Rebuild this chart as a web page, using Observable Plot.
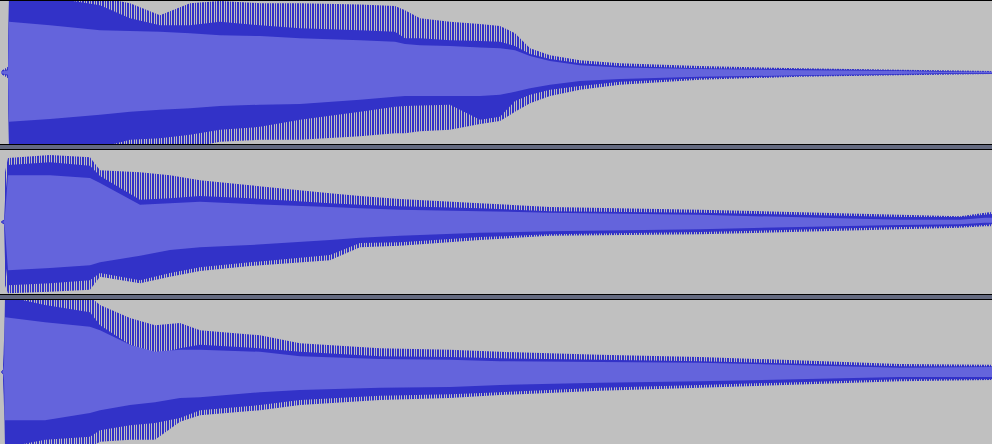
<!DOCTYPE html>
<html>
<head>
<meta charset="utf-8">
<script src="https://cdn.jsdelivr.net/npm/d3@7"></script>
<script src="https://cdn.jsdelivr.net/npm/@observablehq/plot@0.6"></script>
<style>
  html, body { margin: 0; padding: 0; background: #000; }
  #wrap { position: relative; width: 992px; height: 444px; background: #000; overflow: hidden; }
  .track { position: absolute; left: 0; width: 992px; background: #c0c0c0; }
  .track svg { display: block; }
  .sep { position: absolute; left: 0; width: 992px; height: 4px; background: #646a80; }
</style>
</head>
<body>
<div id="wrap">
  <div class="track" id="tr1" style="top:1px;height:143px"></div>
  <div class="sep" style="top:145px"></div>
  <div class="track" id="tr2" style="top:150px;height:144px"></div>
  <div class="sep" style="top:295px"></div>
  <div class="track" id="tr3" style="top:300px;height:144px"></div>
</div>
<script>
// ---- Track 1 (time units: 100 columns each, amplitude -1..1) ----
const timeA     = [0.01,0.08,0.09,0.50,1.00,1.30,1.60,1.90,2.20,2.60,3.00,3.60,3.95,4.05,4.20,4.50,4.80,5.00,5.15,5.30,5.50,5.80,6.20,7.00,8.00,9.00,9.40,9.92];
const peakHiA   = [0.02,0.08,1.05,1.05,1.05,0.97,0.80,0.97,1.00,0.97,0.97,0.95,0.93,0.87,0.76,0.71,0.68,0.65,0.55,0.34,0.24,0.17,0.13,0.09,0.06,0.04,0.03,0.02];
const solidHiA  = [0.01,0.05,1.05,1.05,0.94,0.76,0.66,0.66,0.71,0.66,0.62,0.59,0.57,0.48,0.48,0.45,0.44,0.43,0.37,0.26,0.19,0.13,0.09,0.06,0.05,0.03,0.02,0.01];
const rmsHiA    = [0.01,0.03,0.71,0.66,0.59,0.58,0.57,0.55,0.52,0.51,0.48,0.45,0.43,0.40,0.38,0.37,0.35,0.34,0.31,0.23,0.16,0.10,0.07,0.05,0.03,0.02,0.01,0.01];
const rmsLoA    = [-0.01,-0.03,-0.69,-0.65,-0.59,-0.55,-0.52,-0.50,-0.47,-0.45,-0.44,-0.38,-0.34,-0.33,-0.33,-0.33,-0.33,-0.31,-0.27,-0.22,-0.17,-0.12,-0.09,-0.06,-0.04,-0.02,-0.01,-0.01];
const solidLoA  = [-0.01,-0.05,-1.05,-1.05,-1.05,-0.94,-0.92,-0.87,-0.80,-0.76,-0.66,-0.55,-0.48,-0.47,-0.46,-0.45,-0.66,-0.62,-0.40,-0.31,-0.24,-0.19,-0.13,-0.08,-0.05,-0.03,-0.02,-0.02];
const peakLoA   = [-0.02,-0.08,-1.05,-1.05,-1.05,-1.05,-1.05,-1.05,-0.97,-0.94,-0.94,-0.89,-0.85,-0.85,-0.82,-0.80,-0.72,-0.68,-0.55,-0.43,-0.33,-0.24,-0.17,-0.10,-0.06,-0.04,-0.03,-0.02];

// ---- Track 2 ----
const timeB     = [0.01,0.04,0.05,0.08,0.50,0.90,1.00,1.40,1.70,2.00,2.50,3.30,3.60,4.00,4.80,5.50,7.00,9.00,9.60,9.85,9.92];
const peakHiB   = [0.01,0.03,0.69,0.89,0.93,0.90,0.72,0.69,0.65,0.58,0.51,0.40,0.36,0.32,0.26,0.21,0.17,0.10,0.08,0.13,0.14];
const solidHiB  = [0.01,0.01,0.31,0.79,0.83,0.78,0.64,0.31,0.33,0.36,0.33,0.26,0.24,0.22,0.19,0.15,0.13,0.07,0.07,0.10,0.11];
const rmsHiB    = [0.00,0.01,0.10,0.65,0.65,0.61,0.54,0.24,0.26,0.28,0.25,0.21,0.19,0.17,0.15,0.13,0.10,0.03,0.03,0.06,0.06];
const rmsLoB    = [0.00,-0.01,-0.11,-0.67,-0.64,-0.60,-0.56,-0.47,-0.39,-0.35,-0.32,-0.25,-0.22,-0.19,-0.15,-0.13,-0.10,-0.04,-0.03,-0.01,-0.01];
const solidLoB  = [-0.01,-0.01,-0.53,-0.88,-0.85,-0.81,-0.71,-0.81,-0.71,-0.63,-0.56,-0.46,-0.29,-0.28,-0.21,-0.17,-0.14,-0.07,-0.06,-0.04,-0.03];
const peakLoB   = [-0.01,-0.03,-0.88,-0.99,-0.97,-0.94,-0.76,-0.85,-0.76,-0.68,-0.61,-0.53,-0.35,-0.33,-0.25,-0.19,-0.17,-0.10,-0.08,-0.06,-0.06];

// ---- Track 3 ----
const timeC     = [0.01,0.03,0.04,0.05,0.45,0.90,1.00,1.30,1.55,1.80,2.00,2.60,3.00,3.80,4.50,5.00,6.00,7.00,9.00,9.92];
const peakHiC   = [0.01,0.03,0.44,1.05,1.05,1.05,0.93,0.75,0.65,0.68,0.58,0.51,0.40,0.33,0.31,0.28,0.24,0.21,0.11,0.10];
const solidHiC  = [0.01,0.01,0.24,1.05,0.93,0.83,0.65,0.38,0.24,0.33,0.38,0.33,0.28,0.22,0.21,0.19,0.17,0.15,0.08,0.08];
const rmsHiC    = [0.00,0.01,0.10,0.76,0.69,0.63,0.58,0.38,0.28,0.31,0.31,0.28,0.22,0.18,0.17,0.15,0.14,0.13,0.06,0.07];
const rmsLoC    = [0.00,-0.01,-0.11,-0.67,-0.67,-0.57,-0.53,-0.46,-0.42,-0.36,-0.35,-0.28,-0.25,-0.22,-0.21,-0.18,-0.15,-0.13,-0.07,-0.07];
const solidLoC  = [-0.01,-0.01,-0.32,-1.05,-0.94,-0.90,-0.81,-0.74,-0.71,-0.64,-0.53,-0.46,-0.39,-0.33,-0.31,-0.28,-0.22,-0.18,-0.10,-0.10];
const peakLoC   = [-0.01,-0.03,-0.49,-1.05,-1.05,-1.05,-0.97,-0.94,-0.94,-0.69,-0.60,-0.53,-0.46,-0.39,-0.36,-0.32,-0.26,-0.22,-0.13,-0.11];

const DARK = "#3232c8", LIGHT = "#6464dc", BG = "#c0c0c0";
const totalTime = 9.92;

function table(time, pH, sH, rH, rL, sL, pL) {
  return time.map((t, i) => ({t, pH: pH[i], sH: sH[i], rH: rH[i], rL: rL[i], sL: sL[i], pL: pL[i]}));
}

function track(id, h, rows) {
  const pid = "spikes-" + id;
  const svg = Plot.plot({
    width: 992,
    height: h,
    margin: 0,
    style: {background: BG},
    x: {domain: [0, totalTime], axis: null},
    y: {domain: [-1, 1], axis: null},
    marks: [
      Plot.areaY(rows, {x: "t", y1: "pL", y2: "pH", fill: `url(#${pid})`, clip: true}),
      Plot.areaY(rows, {x: "t", y1: "sL", y2: "sH", fill: DARK, clip: true}),
      Plot.areaY(rows, {x: "t", y1: "rL", y2: "rH", fill: LIGHT, clip: true})
    ]
  });
  const ns = "http://www.w3.org/2000/svg";
  const defs = document.createElementNS(ns, "defs");
  const pat = document.createElementNS(ns, "pattern");
  pat.setAttribute("id", pid);
  pat.setAttribute("patternUnits", "userSpaceOnUse");
  pat.setAttribute("x", "0"); pat.setAttribute("y", "0");
  pat.setAttribute("width", "5"); pat.setAttribute("height", "8");
  const bg = document.createElementNS(ns, "rect");
  bg.setAttribute("width", "5"); bg.setAttribute("height", "8"); bg.setAttribute("fill", BG);
  pat.appendChild(bg);
  for (const [x, w] of [[0, 1], [2, 2]]) {
    const ln = document.createElementNS(ns, "rect");
    ln.setAttribute("x", x); ln.setAttribute("width", w); ln.setAttribute("height", "8"); ln.setAttribute("fill", DARK);
    pat.appendChild(ln);
  }
  defs.appendChild(pat);
  svg.insertBefore(defs, svg.firstChild);
  document.getElementById(id).appendChild(svg);
}

track("tr1", 143, table(timeA, peakHiA, solidHiA, rmsHiA, rmsLoA, solidLoA, peakLoA));
track("tr2", 144, table(timeB, peakHiB, solidHiB, rmsHiB, rmsLoB, solidLoB, peakLoB));
track("tr3", 144, table(timeC, peakHiC, solidHiC, rmsHiC, rmsLoC, solidLoC, peakLoC));
</script>
</body>
</html>
